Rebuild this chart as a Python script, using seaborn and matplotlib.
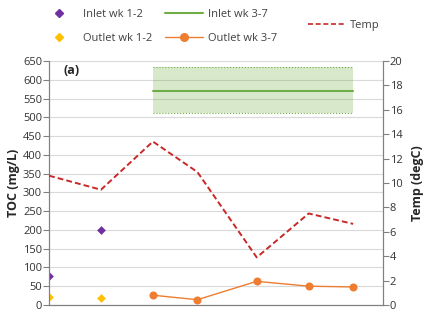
import numpy as np
import pandas as pd
import seaborn as sns
import matplotlib
matplotlib.use("Agg")
from matplotlib import pyplot as plt
from matplotlib.lines import Line2D

# data (x = day)
day_wk12 = [0, 7]
inlet_wk12 = [78, 201]
outlet_wk12 = [20, 18]

day_wk37 = [14, 20, 28, 35, 41]
outlet_wk37 = [26, 14, 63, 50, 48]

inlet_wk37_span = [14, 41]
inlet_wk37_mean = 571
inlet_wk37_low = 511
inlet_wk37_high = 634

temp_days = [0, 7, 14, 20, 28, 35, 41]
temp = [10.6, 9.45, 13.4, 10.9, 3.9, 7.5, 6.65]

purple = "#7030A0"
yellow = "#FFC000"
orange = "#ED7D31"
green = "#70AD47"
red = "#C82828"
grey = "#808080"

sns.set_style("white")
plt.rcParams['font.family'] = ['Open Sans', 'DejaVu Sans']
plt.rcParams['font.size'] = 8

fig = plt.figure(figsize=(4.38, 3.18), dpi=100)
ax = fig.add_axes([0.112, 0.041, 0.762, 0.767])
ax2 = ax.twinx()

# gridlines
ax.set_ylim(0, 650)
ax.set_yticks(np.arange(0, 651, 50))
ax.yaxis.grid(True, color="#D9D9D9", linewidth=0.8)
ax.set_axisbelow(True)

# inlet wk 3-7 band
ax.fill_between(inlet_wk37_span, inlet_wk37_low, inlet_wk37_high,
                color=green, alpha=0.28, linewidth=0, zorder=2)
ax.plot(inlet_wk37_span, [inlet_wk37_low] * 2, color=green, ls=":", lw=0.8, zorder=2)
ax.plot(inlet_wk37_span, [inlet_wk37_high] * 2, color=green, ls=":", lw=0.8, zorder=2)
ax.plot(inlet_wk37_span, [inlet_wk37_mean] * 2, color=green, lw=1.5, zorder=3)

wk12 = pd.DataFrame({"day": day_wk12, "inlet": inlet_wk12, "outlet": outlet_wk12})
sns.scatterplot(data=wk12, x="day", y="inlet", color=purple, marker="D", s=20,
                linewidth=0, ax=ax, zorder=4)
sns.scatterplot(data=wk12, x="day", y="outlet", color=yellow, marker="D", s=20,
                linewidth=0, ax=ax, zorder=4)

wk37 = pd.DataFrame({"day": day_wk37, "outlet": outlet_wk37})
sns.lineplot(data=wk37, x="day", y="outlet", color=orange, lw=1, marker="o",
             markersize=5.8, markeredgewidth=0, ax=ax, zorder=4)

tdf = pd.DataFrame({"day": temp_days, "temp": temp})
sns.lineplot(data=tdf, x="day", y="temp", color=red, lw=1.4, ls=(0, (3, 1.6)),
             ax=ax2, zorder=5)

ax.set_xlim(0, 45)
ax.set_xticks(np.arange(0, 46, 5))
ax.set_xticklabels([])
ax.set_xlabel("")
ax.set_ylabel("TOC (mg/L)", fontweight="bold", fontsize=9, labelpad=2)

ax2.set_ylim(0, 20)
ax2.set_yticks(np.arange(0, 21, 2))
ax2.set_ylabel("Temp (degC)", fontweight="bold", fontsize=9, labelpad=6)

for a in (ax, ax2):
    for s in a.spines.values():
        s.set_color(grey)
    a.spines["top"].set_visible(False)
    a.tick_params(colors=grey, labelcolor="#333333", length=4, width=0.8, pad=1)
ax.tick_params(axis="x", direction="inout", length=7)

ax.text(2.0, 625, "(a)", fontweight="bold", fontsize=9, va="center")

h = [
    Line2D([], [], ls="none", marker="D", color=purple, markersize=4),
    Line2D([], [], ls="none", marker="D", color=yellow, markersize=4),
    Line2D([], [], color=green, lw=1.5),
    Line2D([], [], color=orange, lw=1, marker="o", markersize=5.5),
]
fig.legend(h, ["Inlet wk 1-2", "Outlet wk 1-2", "Inlet wk 3-7", "Outlet wk 3-7"],
           ncol=2, loc="upper left", bbox_to_anchor=(0.068, 1.002), frameon=False,
           fontsize=8, handlelength=3.5, handletextpad=0.4, columnspacing=1.1,
           labelspacing=1.15, labelcolor="#404040")
fig.legend([Line2D([], [], color=red, lw=1.2, ls=(0, (3, 1.6)))], ["Temp"],
           loc="upper left", bbox_to_anchor=(0.68, 0.97), frameon=False,
           fontsize=8, handlelength=3.4, handletextpad=0.4, labelcolor="#404040")

fig.savefig("out.png", dpi=100)
